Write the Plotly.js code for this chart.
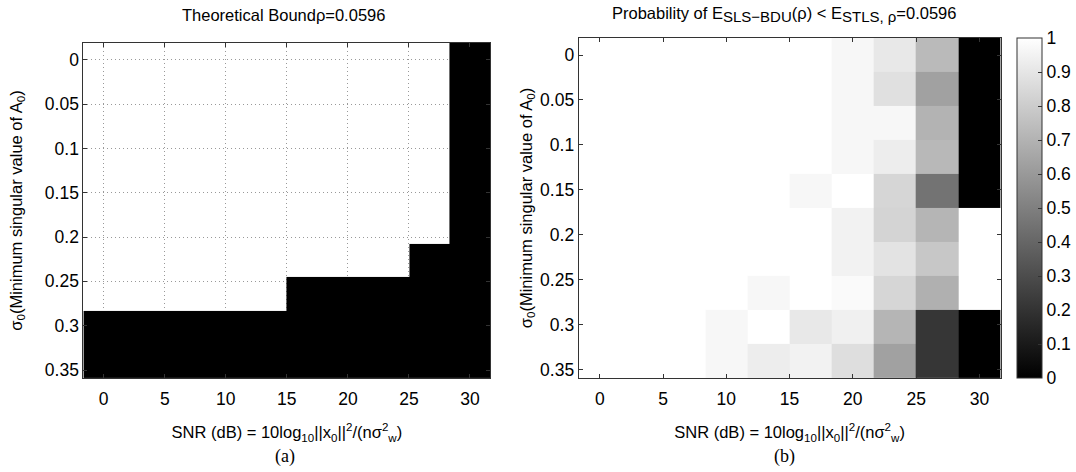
<!DOCTYPE html>
<html>
<head>
<meta charset="utf-8">
<script src="https://cdn.plot.ly/plotly-3.0.1.min.js"></script>
<style>html,body{margin:0;padding:0;background:#fff;}#chart{width:1076px;height:472px;}</style>
</head>
<body>
<div id="chart"></div>
<script>
// SNR (dB) cell centres
const snr = [0, 3.333, 6.667, 10, 13.333, 16.667, 20, 23.333, 26.667, 30];
// sigma_0 cell centres
const sigma = [0, 0.038, 0.076, 0.113, 0.151, 0.189, 0.227, 0.264, 0.302, 0.340];
const xTickVals = [0, 5, 10, 15, 20, 25, 30];
const xTickText = ["0", "5", "10", "15", "20", "25", "30"];
const yTickVals = [0, 0.05, 0.1, 0.15, 0.2, 0.25, 0.3, 0.35];
const yTickText = ["0", "0.05", "0.1", "0.15", "0.2", "0.25", "0.3", "0.35"];
const cbTickVals = [0, 0.1, 0.2, 0.3, 0.4, 0.5, 0.6, 0.7, 0.8, 0.9, 1];

// (a) theoretical bound: 1 = white, 0 = black  (rows = sigma, cols = snr)
const theoreticalBound = [
  [1, 1, 1, 1, 1, 1, 1, 1, 1, 0],
  [1, 1, 1, 1, 1, 1, 1, 1, 1, 0],
  [1, 1, 1, 1, 1, 1, 1, 1, 1, 0],
  [1, 1, 1, 1, 1, 1, 1, 1, 1, 0],
  [1, 1, 1, 1, 1, 1, 1, 1, 1, 0],
  [1, 1, 1, 1, 1, 1, 1, 1, 1, 0],
  [1, 1, 1, 1, 1, 1, 1, 1, 0, 0],
  [1, 1, 1, 1, 1, 0, 0, 0, 0, 0],
  [0, 0, 0, 0, 0, 0, 0, 0, 0, 0],
  [0, 0, 0, 0, 0, 0, 0, 0, 0, 0]
];

// (b) probability of E_SLS-BDU(rho) < E_STLS
const probability = [
  [1, 1, 1, 1,    1,    1,    0.97, 0.91, 0.73, 0],
  [1, 1, 1, 1,    1,    1,    0.97, 0.88, 0.63, 0],
  [1, 1, 1, 1,    1,    1,    0.97, 0.97, 0.70, 0],
  [1, 1, 1, 1,    1,    1,    0.97, 0.93, 0.72, 0],
  [1, 1, 1, 1,    1,    0.97, 1,    0.84, 0.45, 0],
  [1, 1, 1, 1,    1,    1,    0.95, 0.83, 0.71, 1],
  [1, 1, 1, 1,    1,    1,    0.95, 0.89, 0.78, 1],
  [1, 1, 1, 1,    0.97, 1,    0.98, 0.84, 0.69, 1],
  [1, 1, 1, 0.97, 1,    0.91, 0.94, 0.71, 0.21, 0],
  [1, 1, 1, 0.97, 0.93, 0.95, 0.87, 0.63, 0.21, 0]
];

const W = 1076, H = 472;
const fontFam = "Liberation Sans, Arial, Helvetica, sans-serif";
const tickFont = {family: fontFam, size: 17.5, color: "#000"};
const titleFont = {family: fontFam, size: 16.5, color: "#000"};
const axisLine = "#333";
const xTitle = "SNR (dB) = 10log<sub>10</sub>||x<sub>0</sub>||<sup>2</sup>/(nσ<sup>2</sup><sub>w</sub>)";
const yTitle = "σ<sub>0</sub>(Minimum singular value of A<sub>0</sub>)";

function px(x) { return x / W; }
function py(y) { return 1 - y / H; }

const xRange = [-1.667, 31.667];
const yRange = [0.359, -0.0189];

const traces = [
  {
    type: "heatmap", x: snr, y: sigma, z: theoreticalBound,
    xaxis: "x", yaxis: "y",
    zmin: 0, zmax: 1,
    colorscale: [[0, "rgb(0,0,0)"], [1, "rgba(255,255,255,0)"]],
    showscale: false, hoverinfo: "skip"
  },
  {
    type: "heatmap", x: snr, y: sigma, z: probability,
    xaxis: "x2", yaxis: "y2",
    zmin: 0, zmax: 1,
    colorscale: [[0, "rgb(0,0,0)"], [1, "rgb(255,255,255)"]],
    showscale: true,
    colorbar: {
      x: px(1025), xanchor: "left", xpad: 0,
      y: py(38), yanchor: "top", ypad: 0,
      len: 340 / H, lenmode: "fraction",
      thickness: 25, thicknessmode: "pixels",
      outlinewidth: 1, outlinecolor: axisLine,
      tickmode: "array", tickvals: cbTickVals,
      ticks: "inside", ticklen: 4, tickcolor: axisLine,
      tickfont: tickFont
    },
    hoverinfo: "skip"
  }
];

function xAxis(domain, anchor, grid) {
  return {
    domain: domain, anchor: anchor, range: xRange,
    tickmode: "array", tickvals: xTickVals, ticktext: xTickText,
    ticks: "inside", ticklen: 4, tickcolor: axisLine,
    showline: true, linecolor: axisLine, linewidth: 1, mirror: "ticks",
    showgrid: grid, gridcolor: "#999", griddash: "1px,3px", gridwidth: 1,
    zeroline: false, tickfont: tickFont, automargin: false,
    ticklabelstandoff: 5,
    title: {text: xTitle, font: titleFont, standoff: 18}
  };
}
function yAxis(domain, anchor, grid, standoff) {
  return {
    domain: domain, anchor: anchor, range: yRange,
    tickmode: "array", tickvals: yTickVals, ticktext: yTickText,
    ticks: "inside", ticklen: 4, tickcolor: axisLine,
    showline: true, linecolor: axisLine, linewidth: 1, mirror: "ticks",
    showgrid: grid, gridcolor: "#999", griddash: "1px,3px", gridwidth: 1,
    zeroline: false, tickfont: tickFont, automargin: false,
    ticklabelstandoff: 0,
    title: {text: yTitle, font: titleFont, standoff: standoff}
  };
}

const layout = {
  width: W, height: H,
  margin: {l: 0, r: 0, t: 0, b: 0},
  paper_bgcolor: "#fff", plot_bgcolor: "#fff",
  showlegend: false,
  xaxis: xAxis([px(84), px(494)], "y", true),
  yaxis: yAxis([py(378), py(43)], "x", true, 18),
  xaxis2: xAxis([px(583), px(1008)], "y2", false),
  yaxis2: yAxis([py(378), py(38)], "x2", false, 3),
  annotations: [
    {text: "Theoretical Boundρ=0.0596", xref: "paper", yref: "paper",
     x: px(286), y: py(15), xanchor: "center", yanchor: "middle", showarrow: false,
     font: titleFont},
    {text: "Probability of E<sub><span style=\"font-size:15px\">SLS−BDU</span></sub>(ρ) &lt; E<sub><span style=\"font-size:15px\">STLS, ρ</span></sub>=0.0596", xref: "paper", yref: "paper",
     x: px(790), y: py(14), xanchor: "center", yanchor: "middle", showarrow: false,
     font: titleFont},
    {text: "(a)", xref: "paper", yref: "paper",
     x: px(287), y: py(456), xanchor: "center", yanchor: "middle", showarrow: false,
     font: {family: "Liberation Serif, Times New Roman, serif", size: 18, color: "#000"}},
    {text: "(b)", xref: "paper", yref: "paper",
     x: px(790), y: py(456), xanchor: "center", yanchor: "middle", showarrow: false,
     font: {family: "Liberation Serif, Times New Roman, serif", size: 18, color: "#000"}}
  ]
};

Plotly.newPlot("chart", traces, layout, {displayModeBar: false, staticPlot: true});
</script>
</body>
</html>
